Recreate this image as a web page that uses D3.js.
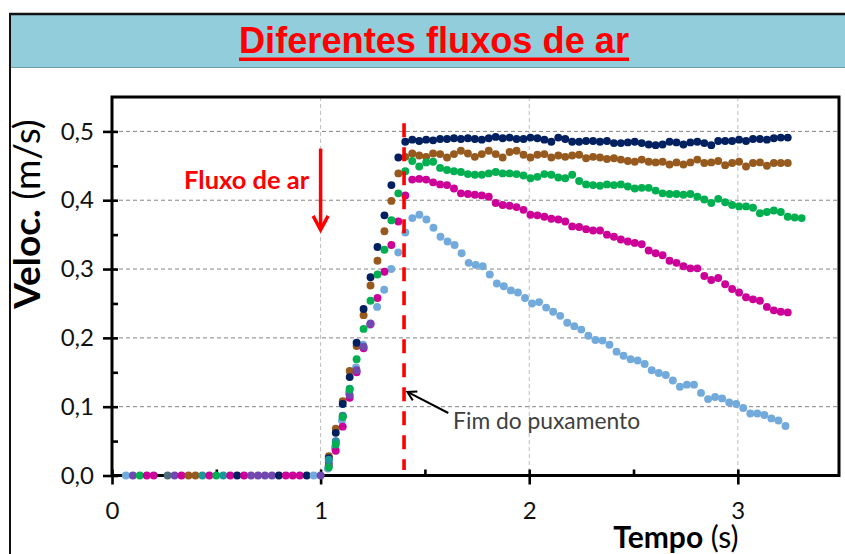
<!DOCTYPE html>
<html>
<head>
<meta charset="utf-8">
<script src="https://cdn.jsdelivr.net/npm/d3@7"></script>
<style>
  html, body { margin: 0; padding: 0; background: #fff; overflow: hidden; }
  svg { display: block; }
</style>
</head>
<body>
<svg id="chart" width="845" height="554"></svg>
<script>
// ---- data -------------------------------------------------------------
// Frames are recorded at 30 fps; frame 0 is the start of the pull (t = 1 s).
const frameStep = 1 / 30;
const pullStart = 1.0;
const pullEnd = 1.4;               // "Fim do puxamento"

// Velocity (m/s) per frame, first value is frame 1.
const navyValues = [
  0.025, 0.062, 0.104, 0.143, 0.193, 0.242, 0.288, 0.332, 0.378, 0.422, 0.462,
  0.485, 0.488, 0.486, 0.488, 0.487, 0.489, 0.489, 0.490, 0.489, 0.490, 0.489,
  0.488, 0.490, 0.492, 0.490, 0.491, 0.489, 0.489, 0.491, 0.490, 0.488, 0.485,
  0.491, 0.489, 0.485, 0.485, 0.486, 0.486, 0.485, 0.486, 0.483, 0.483, 0.484,
  0.485, 0.483, 0.481, 0.480, 0.481, 0.485, 0.484, 0.481, 0.484, 0.485, 0.483,
  0.480, 0.486, 0.486, 0.486, 0.488, 0.486, 0.489, 0.489, 0.488, 0.490, 0.491, 0.491
];
const brownValues = [
  0.028, 0.068, 0.108, 0.152, 0.188, 0.233, 0.276, 0.312, 0.355, 0.399, 0.439,
  0.463, 0.468, 0.465, 0.463, 0.468, 0.467, 0.462, 0.467, 0.472, 0.468, 0.463,
  0.467, 0.472, 0.467, 0.462, 0.470, 0.472, 0.466, 0.462, 0.466, 0.467, 0.462,
  0.465, 0.463, 0.465, 0.466, 0.461, 0.463, 0.462, 0.460, 0.461,
  0.459, 0.457, 0.456, 0.459, 0.456, 0.455, 0.456, 0.452, 0.455, 0.452, 0.455,
  0.459, 0.454, 0.455, 0.457, 0.451, 0.454, 0.456, 0.449, 0.454, 0.455, 0.450,
  0.454, 0.454, 0.454
];
const greenValues = [
  0.012, 0.045, 0.085, 0.125, 0.169, 0.213, 0.254, 0.292, 0.328, 0.371, 0.410,
  0.442, 0.457, 0.449, 0.455, 0.456, 0.447, 0.444, 0.442, 0.441, 0.438, 0.437,
  0.437, 0.439, 0.441, 0.439, 0.439, 0.438, 0.436, 0.432, 0.434, 0.438, 0.437,
  0.433, 0.432, 0.437, 0.428, 0.423, 0.422, 0.421, 0.423, 0.422,
  0.423, 0.420, 0.417, 0.418, 0.418, 0.414, 0.410, 0.409, 0.409, 0.408, 0.409,
  0.405, 0.401, 0.396, 0.402, 0.397, 0.393, 0.391, 0.391, 0.389, 0.381, 0.383,
  0.385, 0.383, 0.376, 0.375, 0.374
];
const magentaValues = [
  0.015, 0.036, 0.071, 0.113, 0.150, 0.185, 0.220, 0.258, 0.296, 0.335, 0.369,
  0.407, 0.430, 0.431, 0.430, 0.426, 0.423, 0.422, 0.417, 0.410, 0.409, 0.408,
  0.407, 0.405, 0.396, 0.393, 0.392, 0.390, 0.386, 0.379, 0.378, 0.376, 0.373,
  0.372, 0.369, 0.362, 0.361, 0.358, 0.356, 0.356, 0.350,
  0.347, 0.343, 0.340, 0.338, 0.336, 0.327, 0.323, 0.320, 0.312, 0.309, 0.304,
  0.301, 0.301, 0.290, 0.284, 0.287, 0.278, 0.271, 0.266, 0.259, 0.256, 0.254,
  0.245, 0.240, 0.238, 0.237
];
const lightBlueValues = [
  0.010, 0.040, 0.080, 0.120, 0.157, 0.190, 0.219, 0.245, 0.270, 0.300, 0.324,
  0.353, 0.374, 0.379, 0.372, 0.360, 0.347, 0.340, 0.335, 0.323, 0.309, 0.306,
  0.304, 0.292, 0.279, 0.275, 0.269, 0.266, 0.258, 0.250, 0.252, 0.244, 0.238,
  0.232, 0.222, 0.217, 0.212, 0.203, 0.197, 0.196, 0.190, 0.180, 0.174, 0.169,
  0.167, 0.162, 0.153, 0.149, 0.146, 0.138, 0.129, 0.132, 0.132, 0.120, 0.111,
  0.114, 0.112, 0.106, 0.104, 0.098, 0.090, 0.090, 0.088, 0.083, 0.080, 0.072
];
const purpleValues = [0.019, 0.050, 0.087, 0.117, 0.153, 0.187, 0.221];
const tealValues = [0.023, 0.049, 0.086, 0.126];

// Which run's dot is on top at each resting frame (frames -28 .. 0), v = 0.
const restFrames = [
  "lightblue", "purple", "green", "magenta", "magenta", null, "slate", "purple",
  "magenta", "brown", "brown", "teal", "magenta", "green", "teal", "magenta",
  "navy", "magenta", "purple", "purple", "purple", "purple", "navy", "magenta",
  "magenta", "magenta", "navy", "lightblue", "purple"
];

const colors = {
  navy: "#002060", brown: "#965A1E", green: "#00B050", magenta: "#CC0099",
  lightblue: "#72AADB", purple: "#7048B0", teal: "#17999A", slate: "#4E6B7A"
};

// drawing order (first = bottom); light-blue run was sampled a bit slower
const runs = [
  { key: "lightblue", values: lightBlueValues, step: 0.03375 },
  { key: "brown",     values: brownValues,     step: frameStep },
  { key: "navy",      values: navyValues,      step: frameStep },
  { key: "magenta",   values: magentaValues,   step: frameStep },
  { key: "purple",    values: purpleValues,    step: frameStep },
  { key: "teal",      values: tealValues,      step: frameStep },
  { key: "green",     values: greenValues,     step: frameStep }
];

const yMajor = [0, 0.1, 0.2, 0.3, 0.4, 0.5];
const yMinor = [0.05, 0.15, 0.25, 0.35, 0.45];
const xMajor = [0, 1, 2, 3];
const xMinor = [0.5, 1.5, 2.5];

// ---- layout -----------------------------------------------------------
const svg = d3.select("#chart");
const W = 845, H = 554;
const pL = 112, pR = 839, pT = 97, pB = 475.5;

const x = d3.scaleLinear().domain([0, 3.485]).range([pL, pR]);
const y = d3.scaleLinear().domain([0, 0.55]).range([pB, pT]);

const pt = d3.formatLocale({ decimal: ",", thousands: ".", grouping: [3], currency: ["R$", ""] });
const fmtY = pt.format(".1f");

const sans = "Lato, 'Open Sans', sans-serif";

// ---- slide header -----------------------------------------------------
svg.append("rect").attr("x", 10).attr("y", 14).attr("width", W - 10).attr("height", 53)
  .attr("fill", "#92CDDC");
svg.append("line").attr("x1", 10).attr("x2", W).attr("y1", 67.5).attr("y2", 67.5)
  .attr("stroke", "#6E9FAE").attr("stroke-width", 1);
svg.append("line").attr("x1", 9).attr("x2", W).attr("y1", 14).attr("y2", 14)
  .attr("stroke", "#111").attr("stroke-width", 2.5);
svg.append("line").attr("x1", 10).attr("x2", 10).attr("y1", 13).attr("y2", H)
  .attr("stroke", "#111").attr("stroke-width", 2);

svg.append("text")
  .attr("x", 434).attr("y", 53)
  .attr("text-anchor", "middle")
  .attr("textLength", 390).attr("lengthAdjust", "spacingAndGlyphs")
  .style("font-family", "'Liberation Sans Narrow', 'Arial Narrow', 'Liberation Sans', Arial, sans-serif")
  .style("font-weight", "bold").style("font-size", "37px")
  .attr("fill", "#FF0000")
  .text("Diferentes fluxos de ar");
svg.append("line").attr("x1", 239).attr("x2", 629).attr("y1", 59.3).attr("y2", 59.3)
  .attr("stroke", "#FF0000").attr("stroke-width", 3.4);

// ---- grid -------------------------------------------------------------
const grid = svg.append("g");
grid.selectAll("line.h").data(yMajor.filter(d => d > 0)).join("line")
  .attr("x1", pL).attr("x2", pR)
  .attr("y1", d => y(d)).attr("y2", d => y(d))
  .attr("stroke", "#858585").attr("stroke-width", 1).attr("stroke-dasharray", "4,3");
grid.selectAll("line.v").data(xMajor.filter(d => d > 0)).join("line")
  .attr("x1", d => x(d)).attr("x2", d => x(d))
  .attr("y1", pT).attr("y2", pB)
  .attr("stroke", "#BDBDBD").attr("stroke-width", 1).attr("stroke-dasharray", "4,3");

// ---- axes -------------------------------------------------------------
function styleAxis(g) {
  g.select(".domain").remove();
  g.selectAll(".tick line").attr("stroke", "#000").attr("stroke-width", 2.6);
  g.selectAll(".tick text")
    .attr("fill", "#111")
    .style("font-family", sans).style("font-size", "24px");
}
// outward half of major ticks, with labels
svg.append("g").attr("transform", `translate(${pL},0)`)
  .call(d3.axisLeft(y).tickValues(yMajor).tickSize(9).tickPadding(9).tickFormat(fmtY))
  .call(styleAxis);
// inward ticks: majors and minors
svg.append("g").attr("transform", `translate(${pL},0)`)
  .call(d3.axisRight(y).tickValues(yMajor.concat(yMinor)).tickSize(6).tickFormat(""))
  .call(styleAxis);
const xAxisG = svg.append("g").attr("transform", `translate(0,${pB})`)
  .call(d3.axisBottom(x).tickValues(xMajor).tickSize(9).tickFormat(d3.format("d")))
  .call(styleAxis);
xAxisG.selectAll(".tick text").attr("y", 43).attr("dy", 0);
svg.append("g").attr("transform", `translate(0,${pB})`)
  .call(d3.axisTop(x).tickValues(xMajor.concat(xMinor)).tickSize(6).tickFormat(""))
  .call(styleAxis);

// plot frame
svg.append("path")
  .attr("d", `M${pL},${pB}V${pT}H${pR}V${pB}Z`)
  .attr("fill", "none").attr("stroke", "#000").attr("stroke-width", 3);

// axis titles
const yTitle = svg.append("text")
  .attr("transform", "translate(40,214) rotate(-90)")
  .attr("text-anchor", "middle")
  .style("font-family", sans).style("font-size", "37px").attr("fill", "#000");
yTitle.append("tspan").style("font-weight", "bold").text("Veloc.");
yTitle.append("tspan").text(" (m/s)");

const xTitle = svg.append("text")
  .attr("x", 676).attr("y", 548)
  .attr("text-anchor", "middle")
  .style("font-family", sans).style("font-size", "30px").attr("fill", "#000");
xTitle.append("tspan").style("font-weight", "bold").text("Tempo");
xTitle.append("tspan").text(" (s)");

// ---- data points ------------------------------------------------------
const r = 3.95;
const restDots = restFrames
  .map((key, i) => ({ key, t: pullStart + (i - (restFrames.length - 1)) * frameStep, v: 0 }))
  .filter(d => d.key);
svg.append("g").selectAll("circle").data(restDots).join("circle")
  .attr("cx", d => x(d.t)).attr("cy", d => y(d.v)).attr("r", r)
  .attr("fill", d => colors[d.key]);

// anchor each run so frame 12 sits at the end of the pull
runs.forEach(run => {
  const t12 = pullStart + 12 * frameStep + 0.006;
  const pts = run.values.map((v, i) => ({ t: t12 + (i + 1 - 12) * run.step, v }));
  svg.append("g").selectAll("circle").data(pts).join("circle")
    .attr("cx", d => x(d.t)).attr("cy", d => y(d.v)).attr("r", r)
    .attr("fill", colors[run.key]);
});

// ---- annotations ------------------------------------------------------
// end of the pull
svg.append("line")
  .attr("x1", x(pullEnd)).attr("x2", x(pullEnd))
  .attr("y1", y(0.512)).attr("y2", y(0.008))
  .attr("stroke", "#FF0000").attr("stroke-width", 3.6).attr("stroke-dasharray", "14,10");

// air flow arrow + label
const ax = x(1.0), ay1 = y(0.475), ay2 = y(0.357);
svg.append("line").attr("x1", ax).attr("x2", ax).attr("y1", ay1).attr("y2", ay2 - 2)
  .attr("stroke", "#FF0000").attr("stroke-width", 3.5);
svg.append("path")
  .attr("d", `M${ax - 7.5},${ay2 - 14}L${ax},${ay2}L${ax + 7.5},${ay2 - 14}`)
  .attr("fill", "none").attr("stroke", "#FF0000").attr("stroke-width", 3.5)
  .attr("stroke-linejoin", "miter");
svg.append("text")
  .attr("x", x(0.946)).attr("y", y(0.4165))
  .attr("text-anchor", "end")
  .style("font-family", sans).style("font-weight", "bold").style("font-size", "25.5px")
  .attr("fill", "#FF0000")
  .text("Fluxo de ar");

// pointer to the dashed line
const tail = [x(1.612), y(0.0908)], tip = [x(1.416), y(0.1214)];
svg.append("line").attr("x1", tail[0]).attr("y1", tail[1]).attr("x2", tip[0]).attr("y2", tip[1])
  .attr("stroke", "#000").attr("stroke-width", 2);
{
  const dx = tail[0] - tip[0], dy = tail[1] - tip[1], L = Math.hypot(dx, dy);
  const ux = dx / L, uy = dy / L, s = 10, a = Math.PI / 6;
  const p1 = [tip[0] + s * (ux * Math.cos(a) - uy * Math.sin(a)), tip[1] + s * (ux * Math.sin(a) + uy * Math.cos(a))];
  const p2 = [tip[0] + s * (ux * Math.cos(-a) - uy * Math.sin(-a)), tip[1] + s * (ux * Math.sin(-a) + uy * Math.cos(-a))];
  svg.append("path").attr("d", `M${p1}L${tip}L${p2}`)
    .attr("fill", "none").attr("stroke", "#000").attr("stroke-width", 2);
}
svg.append("text")
  .attr("x", x(1.635)).attr("y", y(0.0676))
  .style("font-family", sans).style("font-size", "22.8px")
  .attr("fill", "#404040")
  .text("Fim do puxamento");
</script>
</body>
</html>
